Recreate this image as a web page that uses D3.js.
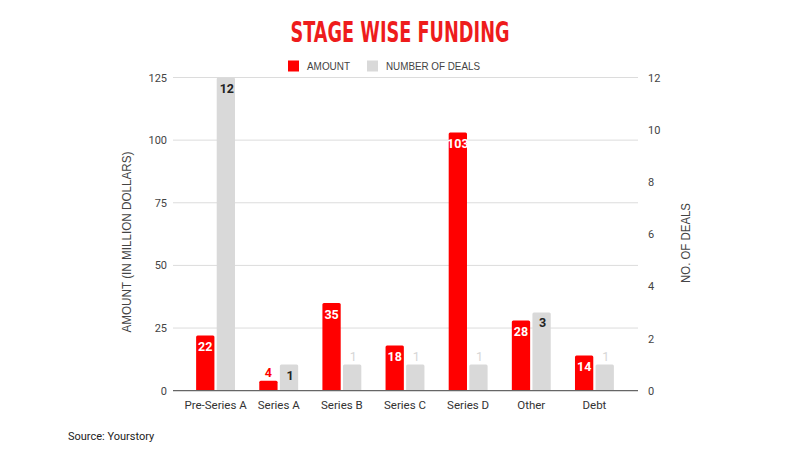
<!DOCTYPE html>
<html>
<head>
<meta charset="utf-8">
<script src="https://cdn.jsdelivr.net/npm/d3@7/dist/d3.min.js"></script>
<style>
  html, body { margin: 0; padding: 0; background: #fff; }
  svg { display: block; font-family: Roboto, "Liberation Sans", Arial, sans-serif; }
</style>
</head>
<body>
<svg id="chart" width="800" height="450"></svg>
<script>
const categories = ["Pre-Series A", "Series A", "Series B", "Series C", "Series D", "Other", "Debt"];
const amounts = [22, 4, 35, 18, 103, 28, 14];
const deals = [12, 1, 1, 1, 1, 3, 1];
const leftTicks = [0, 25, 50, 75, 100, 125];
const rightTicks = [0, 2, 4, 6, 8, 10, 12];
// label placement style per bar: "in" = inside top, "above" = above bar
const amountLabelPos = ["in", "above", "in", "in", "in", "in", "in"];
const dealLabelPos = ["in", "in", "above", "above", "above", "in", "above"];

const svg = d3.select("#chart");
const plotTop = 77.5, plotBottom = 390.7;
const gridLeft = 173, gridRight = 638;

const x = d3.scaleBand().domain(categories).range([184, 626]).paddingInner(0).paddingOuter(0);
const yL = d3.scaleLinear().domain([0, 125]).range([plotBottom, plotTop]);
const yR = d3.scaleLinear().domain([0, 12]).range([plotBottom, plotTop]);

const barW = 18.3, gap = 2.3;

// Title
svg.append("text")
  .attr("x", 400).attr("y", 42)
  .attr("text-anchor", "middle")
  .attr("fill", "#ee1c1c")
  .attr("font-family", "'Liberation Sans Narrow', 'DejaVu Sans Condensed', sans-serif")
  .attr("font-weight", "bold")
  .attr("font-size", 29)
  .attr("textLength", 219)
  .attr("lengthAdjust", "spacingAndGlyphs")
  .text("STAGE WISE FUNDING");

// Legend
const legend = svg.append("g");
legend.append("rect").attr("x", 288).attr("y", 60.5).attr("width", 11).attr("height", 11).attr("fill", "#ff0000");
legend.append("text").attr("x", 307).attr("y", 70).attr("font-size", 11).attr("fill", "#444")
  .attr("font-family", "'Liberation Sans', Arial, sans-serif")
  .attr("textLength", 43).attr("lengthAdjust", "spacingAndGlyphs").text("AMOUNT");
legend.append("rect").attr("x", 367).attr("y", 60.5).attr("width", 11).attr("height", 11).attr("fill", "#d9d9d9");
legend.append("text").attr("x", 386).attr("y", 70).attr("font-size", 11).attr("fill", "#444")
  .attr("font-family", "'Liberation Sans', Arial, sans-serif")
  .attr("textLength", 94).attr("lengthAdjust", "spacingAndGlyphs").text("NUMBER OF DEALS");

// Gridlines (left axis)
svg.append("g").selectAll("line").data(leftTicks.filter(d => d > 0)).join("line")
  .attr("x1", gridLeft).attr("x2", gridRight)
  .attr("y1", d => yL(d)).attr("y2", d => yL(d))
  .attr("stroke", "#dcdcdc").attr("stroke-width", 1);

// Left axis
const leftAxis = svg.append("g").attr("transform", `translate(${gridLeft},0)`)
  .call(d3.axisLeft(yL).tickValues(leftTicks).tickSize(0).tickPadding(6));
leftAxis.select(".domain").remove();
leftAxis.selectAll("text").attr("font-size", 11).attr("fill", "#444").attr("font-family", "Roboto, 'Liberation Sans', sans-serif");

// Right axis
const rightAxis = svg.append("g").attr("transform", `translate(${gridRight},0)`)
  .call(d3.axisRight(yR).tickValues(rightTicks).tickSize(0).tickPadding(10));
rightAxis.select(".domain").remove();
rightAxis.selectAll("text").attr("font-size", 11).attr("fill", "#444").attr("font-family", "Roboto, 'Liberation Sans', sans-serif");

// Bars
const groups = svg.append("g").selectAll("g").data(categories).join("g")
  .attr("transform", d => `translate(${x(d) + x.bandwidth() / 2},0)`);

groups.append("rect")
  .attr("x", -barW - gap / 2)
  .attr("y", (d, i) => yL(amounts[i]))
  .attr("width", barW)
  .attr("height", (d, i) => plotBottom - yL(amounts[i]))
  .attr("rx", 1.5)
  .attr("fill", "#ff0000");

groups.append("rect")
  .attr("x", gap / 2)
  .attr("y", (d, i) => yR(deals[i]))
  .attr("width", barW)
  .attr("height", (d, i) => plotBottom - yR(deals[i]))
  .attr("rx", 1.5)
  .attr("fill", "#d9d9d9");

// Baseline
svg.append("line").attr("x1", gridLeft).attr("x2", gridRight)
  .attr("y1", plotBottom).attr("y2", plotBottom).attr("stroke", "#666").attr("stroke-width", 1.2);

// Amount labels
groups.append("text")
  .attr("x", -barW / 2 - gap / 2)
  .attr("y", (d, i) => amountLabelPos[i] === "in" ? yL(amounts[i]) + 15.5 : yL(amounts[i]) - 4)
  .attr("text-anchor", "middle")
  .attr("font-size", 12.5).attr("font-weight", "bold")
  .attr("fill", (d, i) => amountLabelPos[i] === "in" ? "#ffffff" : "#ff0000")
  .text((d, i) => amounts[i]);

// Deal labels
groups.append("text")
  .attr("x", barW / 2 + gap / 2 + 1)
  .attr("y", (d, i) => dealLabelPos[i] === "in" ? yR(deals[i]) + 15 : yR(deals[i]) - 4)
  .attr("text-anchor", "middle")
  .attr("font-size", 12.5)
  .attr("font-weight", (d, i) => dealLabelPos[i] === "in" ? "bold" : "normal")
  .attr("fill", (d, i) => dealLabelPos[i] === "in" ? "#222" : "#d6d6d6")
  .text((d, i) => deals[i]);

// Category labels
svg.append("g").selectAll("text").data(categories).join("text")
  .attr("x", d => x(d) + x.bandwidth() / 2)
  .attr("y", 409)
  .attr("text-anchor", "middle")
  .attr("font-size", 11.5).attr("fill", "#333")
  .text(d => d);

// Axis titles
svg.append("text")
  .attr("transform", `translate(130.5,242) rotate(-90)`)
  .attr("text-anchor", "middle")
  .attr("font-family", "'Liberation Sans', Arial, sans-serif")
  .attr("font-size", 12.5).attr("fill", "#444")
  .attr("textLength", 181).attr("lengthAdjust", "spacingAndGlyphs")
  .text("AMOUNT (IN MILLION DOLLARS)");
svg.append("text")
  .attr("transform", `translate(689.5,243) rotate(-90)`)
  .attr("text-anchor", "middle")
  .attr("font-family", "'Liberation Sans', Arial, sans-serif")
  .attr("font-size", 12.5).attr("fill", "#444")
  .attr("textLength", 80).attr("lengthAdjust", "spacingAndGlyphs")
  .text("NO. OF DEALS");

// Source
svg.append("text").attr("x", 68).attr("y", 440)
  .attr("font-size", 11).attr("fill", "#222")
  .text("Source: Yourstory");
</script>
</body>
</html>
